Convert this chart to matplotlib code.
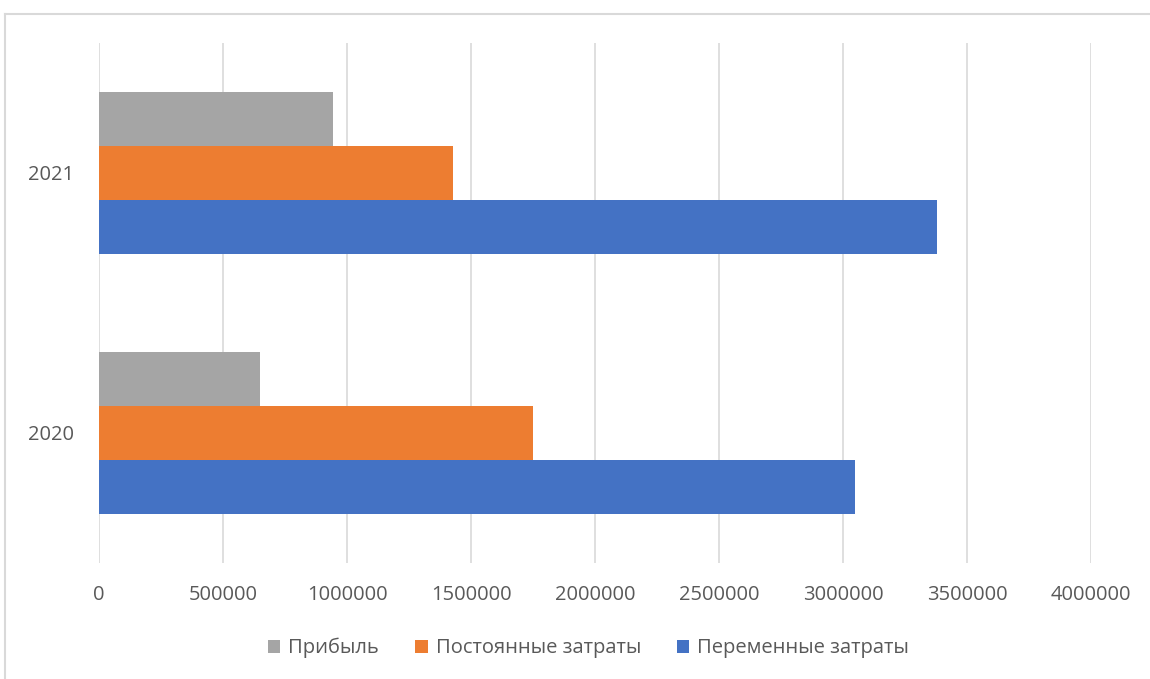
import numpy as np
import matplotlib.pyplot as plt
from matplotlib.lines import Line2D

# === Data ===
years = ['2020', '2021']
profit = [650000, 942000]          # Прибыль
fixed_costs = [1748000, 1426000]   # Постоянные затраты
var_costs = [3050000, 3379000]     # Переменные затраты

series_names = ['Прибыль', 'Постоянные затраты', 'Переменные затраты']
colors = ['#a5a5a5', '#ed7d31', '#4472c4']

plt.rcParams['font.family'] = ['Open Sans', 'DejaVu Sans']
text_color = '#595959'

fig = plt.figure(figsize=(11.5, 6.79), dpi=100)
ax = fig.add_axes([99 / 1150, 1 - 563 / 679, 992 / 1150, 520 / 679])

y = np.arange(len(years))
h = 0.2077

bars = []
for vals, off, c in zip([profit, fixed_costs, var_costs], [h, 0, -h], colors):
    bars.append(ax.barh(y + off, vals, height=h, color=c, zorder=3))

ax.set_xlim(0, 4000000)
ax.set_ylim(-0.5, 1.5)
ax.set_xticks(np.arange(0, 4000001, 500000))
ax.set_xticklabels([str(v) for v in range(0, 4000001, 500000)])
ax.set_yticks(y)
ax.set_yticklabels(years)

ax.grid(axis='x', color='#d9d9d9', linewidth=1.2, zorder=0)
ax.grid(axis='y', visible=False)
for s in ax.spines.values():
    s.set_visible(False)
ax.tick_params(axis='both', length=0, labelsize=14.5, labelcolor=text_color)
ax.tick_params(axis='x', pad=16)
ax.tick_params(axis='y', pad=18)

leg = fig.legend(bars, series_names, loc='center', bbox_to_anchor=(0.512, 1 - 648 / 679),
                 ncol=3, frameon=False, fontsize=14.5, handlelength=0.6, handleheight=0.6,
                 handletextpad=0.4, columnspacing=1.8, labelcolor=text_color)

# outer chart frame
fx = 5 / 1150
fy = 1 - 14 / 679
fig.add_artist(Line2D([fx, 1], [fy, fy], transform=fig.transFigure, color='#d9d9d9', lw=1.5))
fig.add_artist(Line2D([fx, fx], [0, fy], transform=fig.transFigure, color='#d9d9d9', lw=1.5))

fig.savefig('out.png', dpi=100)
